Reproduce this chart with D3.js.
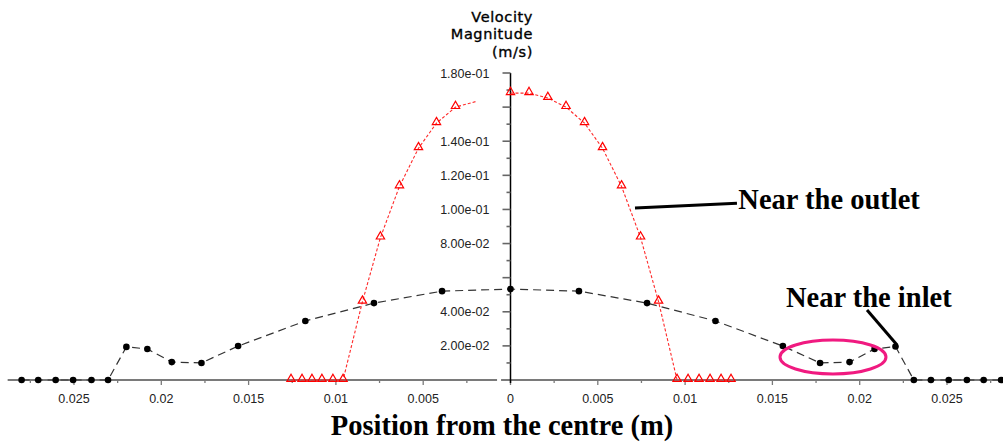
<!DOCTYPE html>
<html>
<head>
<meta charset="utf-8">
<script src="https://cdn.jsdelivr.net/npm/d3@7/dist/d3.min.js"></script>
<style>
	body { margin: 0; background: #fff; }
	.tick_text { font-family: "Liberation Sans", Arial, sans-serif; font-size: 12.5px; fill: #222; }
	.note { font-family: "Liberation Serif", "Times New Roman", serif; font-weight: bold; font-size: 28.5px; fill: #000; }
</style>
</head>
<body>
<div id="chart"></div>
<script>
// positions in mm from the centre (negative = left half), values in m/s
var inletPos = [-28.0, -27.05, -26.05, -25.05, -24.0, -23.05, -22.0, -20.8, -19.4, -17.7, -15.6, -11.75, -7.82, -3.92, 0,
	3.92, 7.82, 11.74, 15.6, 17.73, 19.42, 20.85, 22.05, 23.1, 24.08, 25.1, 26.14, 27.1, 28.1];
var inletVel = [0, 0, 0, 0, 0, 0, 0.0194, 0.0182, 0.0105, 0.0100, 0.0199, 0.0346, 0.0451, 0.0521, 0.0533,
	0.0521, 0.0451, 0.0346, 0.0199, 0.0100, 0.0105, 0.0182, 0.0196, 0, 0, 0, 0, 0, 0];

var outletLeftPos = [-12.57, -11.94, -11.37, -10.8, -10.17, -9.59, -8.48, -7.45, -6.36, -5.27, -4.24, -3.15];
var outletLeftVel = [0, 0, 0, 0, 0, 0, 0.0459, 0.0835, 0.1135, 0.1359, 0.1506, 0.1600];
var outletLeftTail = [-1.9, 0.1635];   // line continues a little past the last marker

var outletRightPos = [0, 1.06, 2.14, 3.18, 4.24, 5.27, 6.36, 7.45, 8.48, 9.54, 10.17, 10.8, 11.43, 12.06, 12.63];
var outletRightVel = [0.1682, 0.1682, 0.1653, 0.1600, 0.1506, 0.1359, 0.1135, 0.0835, 0.0459, 0, 0, 0, 0, 0, 0];

var xLeftTicks = [-27.5, -25, -22.5, -20, -17.5, -15, -12.5, -10, -7.5, -5, -2.5];
var xRightTicks = [0, 2.5, 5, 7.5, 10, 12.5, 15, 17.5, 20, 22.5, 25, 27.5];
var xLabels = ["0.025", "0.02", "0.015", "0.01", "0.005", "0"];
var yTicks = d3.range(1, 19).map(function(d) { return d / 100; });
var yLabels = [0.02, 0.04, 0.08, 0.10, 0.12, 0.14, 0.18];
var yTitle = ["Velocity", "Magnitude", "(m/s)"];

var w = 1003, h = 444;

var x = d3.scaleLinear().domain([-28, 28]).range([510.5 - 28 * 17.46, 510.5 + 28 * 17.46]);
var y = d3.scaleLinear().domain([0, 0.18]).range([380, 73]);

var vis = d3.select("#chart").append("svg")
	.attr("width", w)
	.attr("height", h)
	.style("display", "block");

vis.append("rect").attr("width", w).attr("height", h).style("fill", "#fff");

function sciFmt(v) {
	// 2.00e-02 style labels
	var s = d3.format(".2e")(v);
	return s.replace(/e([+-])(\d)$/, "e$10$2");
}

// x axis: two pieces, split at the centre
vis.append("line")
	.attr("x1", x(-28.8)).attr("x2", x(-0.77))
	.attr("y1", y(0)).attr("y2", y(0))
	.style("stroke", "#7a7a7a").style("stroke-width", 2);
vis.append("line")
	.attr("x1", x(-0.54)).attr("x2", w)
	.attr("y1", y(0)).attr("y2", y(0))
	.style("stroke", "#7a7a7a").style("stroke-width", 2);

vis.selectAll(".xtick")
	.data(xLeftTicks.concat(xRightTicks))
	.enter().append("line")
	.attr("class", "xtick")
	.attr("x1", function(d) { return x(d); })
	.attr("x2", function(d) { return x(d); })
	.attr("y1", y(0))
	.attr("y2", function(d) { return y(0) + (d % 5 == 0 ? 5 : 3); })
	.style("stroke", "#7a7a7a").style("stroke-width", 1.3);

vis.selectAll(".xlab")
	.data(xLeftTicks.concat(xRightTicks).filter(function(d) { return d % 5 == 0; }))
	.enter().append("text")
	.attr("class", "tick_text")
	.attr("x", function(d) { return x(d); })
	.attr("y", 403)
	.attr("text-anchor", "middle")
	.text(function(d) { return xLabels[5 - Math.abs(d) / 5]; });

// y axis
vis.append("line")
	.attr("x1", x(0)).attr("x2", x(0))
	.attr("y1", y(0.18)).attr("y2", y(0) + 3)
	.style("stroke", "#000").style("stroke-width", 1.5);

vis.selectAll(".ytick")
	.data(yTicks)
	.enter().append("line")
	.attr("x1", function(d) { return x(0) - (Math.round(d * 100) % 2 == 0 ? 8 : 4); })
	.attr("x2", x(0))
	.attr("y1", function(d) { return y(d); })
	.attr("y2", function(d) { return y(d); })
	.style("stroke", "#666").style("stroke-width", 1.6);

vis.selectAll(".ylab")
	.data(yLabels)
	.enter().append("text")
	.attr("class", "tick_text")
	.attr("x", x(0) - 21)
	.attr("y", function(d) { return y(d) + 4.5; })
	.attr("text-anchor", "end")
	.text(sciFmt);

var titleY = [22, 38.5, 57];
vis.selectAll(".ytitle")
	.data(yTitle)
	.enter().append("text")
	.attr("x", 533)
	.attr("y", function(d, i) { return titleY[i]; })
	.attr("text-anchor", "end")
	.style("font-family", "DejaVu Sans, sans-serif")
	.style("font-size", "14.5px")
	.style("letter-spacing", "0.6px")
	.style("fill", "#000")
	.style("stroke", "#000").style("stroke-width", 0.35)
	.text(function(d) { return d; });

// series
function pts(pos, vel) {
	return pos.map(function(p, i) { return [p, vel[i]]; });
}
var line = d3.line()
	.x(function(d) { return x(d[0]); })
	.y(function(d) { return y(d[1]); });

var inlet = pts(inletPos, inletVel);
var outL = pts(outletLeftPos, outletLeftVel);
var outR = pts(outletRightPos, outletRightVel);

vis.append("path")
	.attr("d", line(inlet))
	.style("fill", "none").style("stroke", "#333")
	.style("stroke-width", 1.2).style("stroke-dasharray", "8,5");

vis.selectAll(".dot")
	.data(inlet)
	.enter().append("circle")
	.attr("cx", function(d) { return x(d[0]); })
	.attr("cy", function(d) { return y(d[1]); })
	.attr("r", 3.3)
	.style("fill", "#000");

[outL.concat([outletLeftTail]), outR].forEach(function(s) {
	vis.append("path")
		.attr("d", line(s))
		.style("fill", "none").style("stroke", "#ff2a2a")
		.style("stroke-width", 1.1).style("stroke-dasharray", "3,2");
});

var tri = d3.symbol().type(d3.symbolTriangle).size(30);
vis.selectAll(".tri")
	.data(outL.concat(outR))
	.enter().append("path")
	.attr("d", tri)
	.attr("transform", function(d) { return "translate(" + x(d[0]) + "," + (y(d[1]) - 1) + ")"; })
	.style("fill", "none").style("stroke", "#ff0000").style("stroke-width", 1.2);

// annotations (data coordinates)
vis.append("line")
	.attr("x1", x(7.13)).attr("y1", y(0.1008))
	.attr("x2", x(12.97)).attr("y2", y(0.1037))
	.style("stroke", "#000").style("stroke-width", 3);
vis.append("text").attr("class", "note")
	.attr("x", x(13.05)).attr("y", y(0.1002))
	.text("Near the outlet");

vis.append("line")
	.attr("x1", x(20.42)).attr("y1", y(0.041))
	.attr("x2", x(22.14)).attr("y2", y(0.0205))
	.style("stroke", "#000").style("stroke-width", 3);
vis.append("text").attr("class", "note")
	.attr("x", x(15.78)).attr("y", y(0.0428))
	.text("Near the inlet");

vis.append("ellipse")
	.attr("cx", x(18.47)).attr("cy", y(0.01347))
	.attr("rx", 53).attr("ry", 17)
	.style("fill", "none").style("stroke", "#f01a80").style("stroke-width", 3);

vis.append("text").attr("class", "note")
	.attr("x", 502).attr("y", 435)
	.attr("text-anchor", "middle")
	.text("Position from the centre (m)");
</script>
</body>
</html>
